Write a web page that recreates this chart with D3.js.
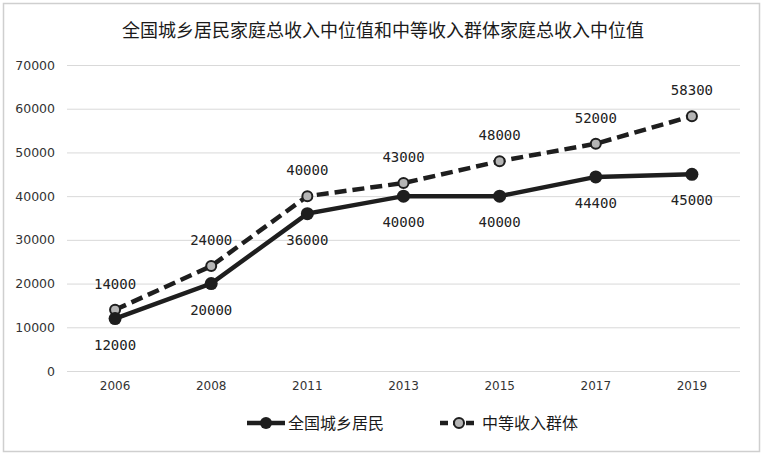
<!DOCTYPE html>
<html><head><meta charset="utf-8">
<script src="https://cdn.jsdelivr.net/npm/d3@7"></script>
<style>body{margin:0;background:#fff}</style>
</head><body>
<svg id="c" width="765" height="457"></svg>
<script>
const categories = ["2006","2008","2011","2013","2015","2017","2019"];
const residents = [12000,20000,36000,40000,40000,44400,45000];
const middle = [14000,24000,40000,43000,48000,52000,58300];
const yTicks = [0,10000,20000,30000,40000,50000,60000,70000];
const seriesNames = ["全国城乡居民","中等收入群体"];
const title = "全国城乡居民家庭总收入中位值和中等收入群体家庭总收入中位值";

const svg = d3.select("#c");
const W = 765, H = 457;
const m = {left:67, right:25, top:65, bottom:86};
const x = d3.scaleBand().domain(categories).range([m.left, W - m.right]);
const y = d3.scaleLinear().domain([0,70000]).range([H - m.bottom, m.top]);

// outer frame
svg.append("rect").attr("x",3.5).attr("y",3.5).attr("width",756).attr("height",448)
  .attr("fill","#fff").attr("stroke","#cfcfcf").attr("stroke-width",1.5);

// title
svg.append("text").attr("x",383).attr("y",37).attr("text-anchor","middle")
  .attr("font-family","'Noto Sans CJK SC'").attr("font-size",18).attr("fill","#1a1a1a")
  .text(title);

// grid
svg.append("g").selectAll("line").data(yTicks).join("line")
  .attr("x1",m.left).attr("x2",W-m.right)
  .attr("y1",d=>y(d)+0.5).attr("y2",d=>y(d)+0.5)
  .attr("stroke","#d9d9d9").attr("stroke-width",1);

// y axis labels
const yAxis = d3.axisLeft(y).tickValues(yTicks).tickSize(0).tickPadding(12).tickFormat(d3.format("d"));
const gy = svg.append("g").attr("transform",`translate(${m.left},0)`).call(yAxis);
gy.select(".domain").remove();
gy.selectAll("text").attr("font-family","'DejaVu Sans'").attr("font-size",12.5).attr("fill","#333");

// x axis labels
const xAxis = d3.axisBottom(x).tickSize(0).tickPadding(10);
const gx = svg.append("g").attr("transform",`translate(0,${H-m.bottom})`).call(xAxis);
gx.select(".domain").remove();
gx.selectAll("text").attr("font-family","'DejaVu Sans'").attr("font-size",12).attr("fill","#333");

const cx = d => x(d) + x.bandwidth()/2;
const line = d3.line().x((d,i)=>cx(categories[i])).y(d=>y(d));

// dashed series
svg.append("path").datum(middle).attr("d",line).attr("fill","none")
  .attr("stroke","#1e1e1e").attr("stroke-width",4.5).attr("stroke-dasharray","12,6");
svg.append("g").selectAll("circle").data(middle).join("circle")
  .attr("cx",(d,i)=>cx(categories[i])).attr("cy",d=>y(d)).attr("r",5)
  .attr("fill","#b5b5b5").attr("stroke","#1e1e1e").attr("stroke-width",2);

// solid series
svg.append("path").datum(residents).attr("d",line).attr("fill","none")
  .attr("stroke","#1e1e1e").attr("stroke-width",4.5);
svg.append("g").selectAll("circle").data(residents).join("circle")
  .attr("cx",(d,i)=>cx(categories[i])).attr("cy",d=>y(d)).attr("r",6.5)
  .attr("fill","#1e1e1e");

// labels
const lblFont = "'DejaVu Sans Mono'";
svg.append("g").selectAll("text").data(middle).join("text")
  .attr("x",(d,i)=>cx(categories[i])).attr("y",d=>y(d)-21)
  .attr("text-anchor","middle").attr("font-family",lblFont).attr("font-size",14).attr("fill","#222")
  .text(d=>d);
svg.append("g").selectAll("text").data(residents).join("text")
  .attr("x",(d,i)=>cx(categories[i])).attr("y",d=>y(d)+31)
  .attr("text-anchor","middle").attr("font-family",lblFont).attr("font-size",14).attr("fill","#222")
  .text(d=>d);

// legend
const lg = svg.append("g");
const ly = 423;
lg.append("line").attr("x1",247).attr("x2",285).attr("y1",ly).attr("y2",ly)
  .attr("stroke","#1e1e1e").attr("stroke-width",4.5);
lg.append("circle").attr("cx",266).attr("cy",ly).attr("r",6).attr("fill","#1e1e1e");
lg.append("text").attr("x",288).attr("y",ly+5.5).attr("font-family","'Noto Sans CJK SC'")
  .attr("font-size",16).attr("fill","#1a1a1a").text(seriesNames[0]);
lg.append("line").attr("x1",440).attr("x2",478).attr("y1",ly).attr("y2",ly)
  .attr("stroke","#1e1e1e").attr("stroke-width",4.5).attr("stroke-dasharray","8,5");
lg.append("circle").attr("cx",459).attr("cy",ly).attr("r",5)
  .attr("fill","#b5b5b5").attr("stroke","#1e1e1e").attr("stroke-width",2);
lg.append("text").attr("x",482).attr("y",ly+5.5).attr("font-family","'Noto Sans CJK SC'")
  .attr("font-size",16).attr("fill","#1a1a1a").text(seriesNames[1]);
</script>
</body></html>
